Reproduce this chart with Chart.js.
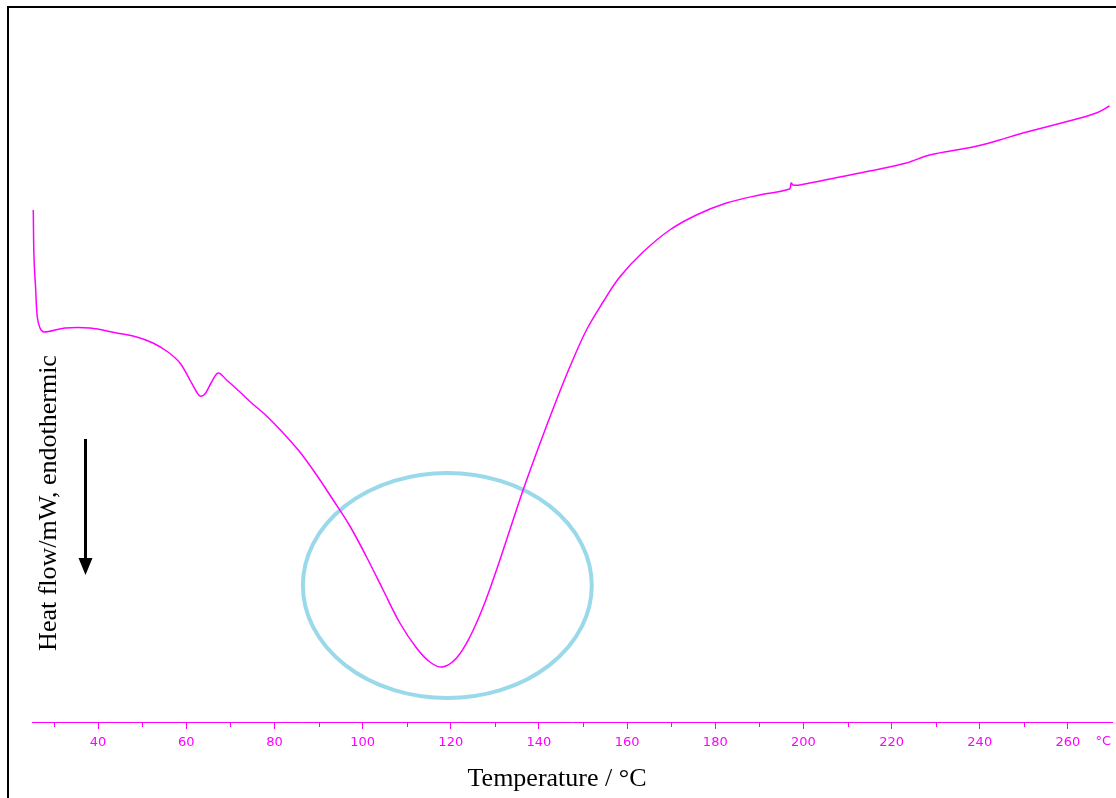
<!DOCTYPE html>
<html>
<head>
<meta charset="utf-8">
<script src="https://cdn.jsdelivr.net/npm/chart.js@4/dist/chart.umd.min.js"></script>
<style>
  html, body { margin: 0; padding: 0; background: #fff; overflow: hidden; }
  #wrap { position: relative; width: 1116px; height: 798px; }
  canvas { display: block; }
</style>
</head>
<body>
<div id="wrap"><canvas id="c" width="1116" height="798"></canvas></div>
<script>
// ---- Data ----
const temperatures = [
  25.29, 25.45, 25.84, 26.20, 26.81, 27.72, 32.48, 38.15, 44.21, 48.74,
  52.44, 55.84, 58.56, 60.83, 62.35, 63.10, 64.23, 65.75, 67.24, 69.15,
  72.17, 74.43, 78.22, 81.98, 85.77, 89.56, 93.32, 97.11, 100.90, 104.66,
  108.45, 112.23, 115.25, 118.13, 121.30, 124.32, 127.34, 130.37, 133.39, 136.41,
  140.19, 143.98, 147.00, 150.78, 154.55, 158.33, 163.62, 169.67, 175.73, 182.53,
  190.02, 196.83, 197.21, 197.63, 199.15, 208.22, 215.02, 223.34, 228.62, 238.44,
  244.50, 249.78, 261.12, 266.43, 269.44
];
const heatFlow = [
  51.2, 46.5, 43.2, 40.5, 39.4, 39.0, 39.4, 39.4, 38.9, 38.5,
  37.9, 37.0, 35.9, 34.2, 33.0, 32.6, 32.8, 34.0, 34.9, 34.2,
  33.0, 32.05, 30.6, 28.9, 27.0, 24.7, 22.2, 19.6, 16.5, 13.2,
  9.9, 7.4, 6.0, 5.5, 6.4, 8.5, 11.5, 15.2, 19.2, 23.2,
  27.8, 32.2, 35.5, 39.2, 42.0, 44.5, 47.0, 49.2, 50.7, 51.9,
  52.7, 53.3, 53.9, 53.7, 53.7, 54.5, 55.1, 55.9, 56.7, 57.5,
  58.2, 58.9, 60.2, 60.9, 61.6
];
const majorTicks = [40, 60, 80, 100, 120, 140, 160, 180, 200, 220, 240, 260];
const minorTicks = [30, 50, 70, 90, 110, 130, 150, 170, 190, 210, 230, 250];
const unitLabel = '°C';
const xTitle = 'Temperature / °C';
const yTitle = 'Heat flow/mW, endothermic';
// highlighted region (ellipse) in data units: centre T, centre value, half-width T, half-height value
const highlightCentre = [119.22, 13.65];
const highlightRadii = [32.77, 11.25];

const MAGENTA = '#FF00FF';

const decorations = {
  id: 'decorations',
  beforeDraw(chart) {
    const ctx = chart.ctx;
    ctx.save();
    ctx.fillStyle = '#fff';
    ctx.fillRect(0, 0, chart.width, chart.height);
    ctx.fillStyle = '#000';
    ctx.fillRect(7, 6, chart.width, 2);
    ctx.fillRect(7, 6, 2, chart.height);
    ctx.restore();
  },
  beforeDatasetsDraw(chart) {
    const ctx = chart.ctx;
    const xs = chart.scales.x, ys = chart.scales.y;
    const cx = xs.getPixelForValue(highlightCentre[0]);
    const cy = ys.getPixelForValue(highlightCentre[1]);
    const rx = Math.abs(xs.getPixelForValue(highlightCentre[0] + highlightRadii[0]) - cx);
    const ry = Math.abs(ys.getPixelForValue(highlightCentre[1] + highlightRadii[1]) - cy);
    ctx.save();
    ctx.strokeStyle = 'rgb(153,217,234)';
    ctx.lineWidth = 4;
    ctx.beginPath();
    ctx.ellipse(cx, cy, rx, ry, 0, 0, Math.PI * 2);
    ctx.stroke();
    ctx.restore();
  },
  afterDraw(chart) {
    const ctx = chart.ctx;
    const xs = chart.scales.x;
    const area = chart.chartArea;
    ctx.save();
    ctx.strokeStyle = MAGENTA;
    ctx.lineWidth = 1;
    minorTicks.forEach(v => {
      const px = Math.round(xs.getPixelForValue(v)) + 0.5;
      ctx.beginPath();
      ctx.moveTo(px, area.bottom);
      ctx.lineTo(px, area.bottom + 5);
      ctx.stroke();
    });
    ctx.fillStyle = MAGENTA;
    ctx.font = '13px "DejaVu Sans"';
    ctx.textAlign = 'right';
    ctx.textBaseline = 'middle';
    ctx.fillText(unitLabel, area.right - 1, 742);
    ctx.fillStyle = '#000';
    ctx.font = '26px "Liberation Serif", "Times New Roman", serif';
    ctx.textAlign = 'center';
    ctx.textBaseline = 'alphabetic';
    ctx.fillText(xTitle, 557, 786);
    ctx.save();
    ctx.translate(56, 503);
    ctx.rotate(-Math.PI / 2);
    ctx.fillText(yTitle, 0, 0);
    ctx.restore();
    ctx.strokeStyle = '#000';
    ctx.fillStyle = '#000';
    ctx.lineWidth = 3;
    ctx.beginPath();
    ctx.moveTo(85.5, 439);
    ctx.lineTo(85.5, 560);
    ctx.stroke();
    ctx.beginPath();
    ctx.moveTo(78.5, 558);
    ctx.lineTo(92.5, 558);
    ctx.lineTo(85.5, 575);
    ctx.closePath();
    ctx.fill();
    ctx.restore();
  }
};

new Chart(document.getElementById('c'), {
  type: 'line',
  data: {
    datasets: [{
      data: temperatures.map((t, i) => ({ x: t, y: heatFlow[i] })),
      borderColor: MAGENTA,
      borderWidth: 1.5,
      pointRadius: 0,
      fill: false,
      tension: 0.35
    }]
  },
  options: {
    responsive: false,
    animation: false,
    events: [],
    layout: { padding: { left: 32, right: 4, top: 22, bottom: 0 } },
    plugins: { legend: { display: false }, tooltip: { enabled: false }, title: { display: false } },
    scales: {
      x: {
        type: 'linear',
        min: 25,
        max: 270,
        afterBuildTicks(scale) { scale.ticks = majorTicks.map(v => ({ value: v })); },
        afterFit(scale) { scale.height = 76; },
        grid: { display: true, drawOnChartArea: false, drawTicks: true, tickLength: 7, color: MAGENTA, tickColor: MAGENTA, tickWidth: 1 },
        border: { display: true, color: MAGENTA, width: 1 },
        ticks: {
          color: MAGENTA,
          font: { family: 'DejaVu Sans', size: 13 },
          padding: 6,
          maxRotation: 0,
          autoSkip: false,
          callback: v => String(v)
        }
      },
      y: { display: false, min: 0, max: 70 }
    }
  },
  plugins: [decorations]
});
</script>
</body>
</html>
